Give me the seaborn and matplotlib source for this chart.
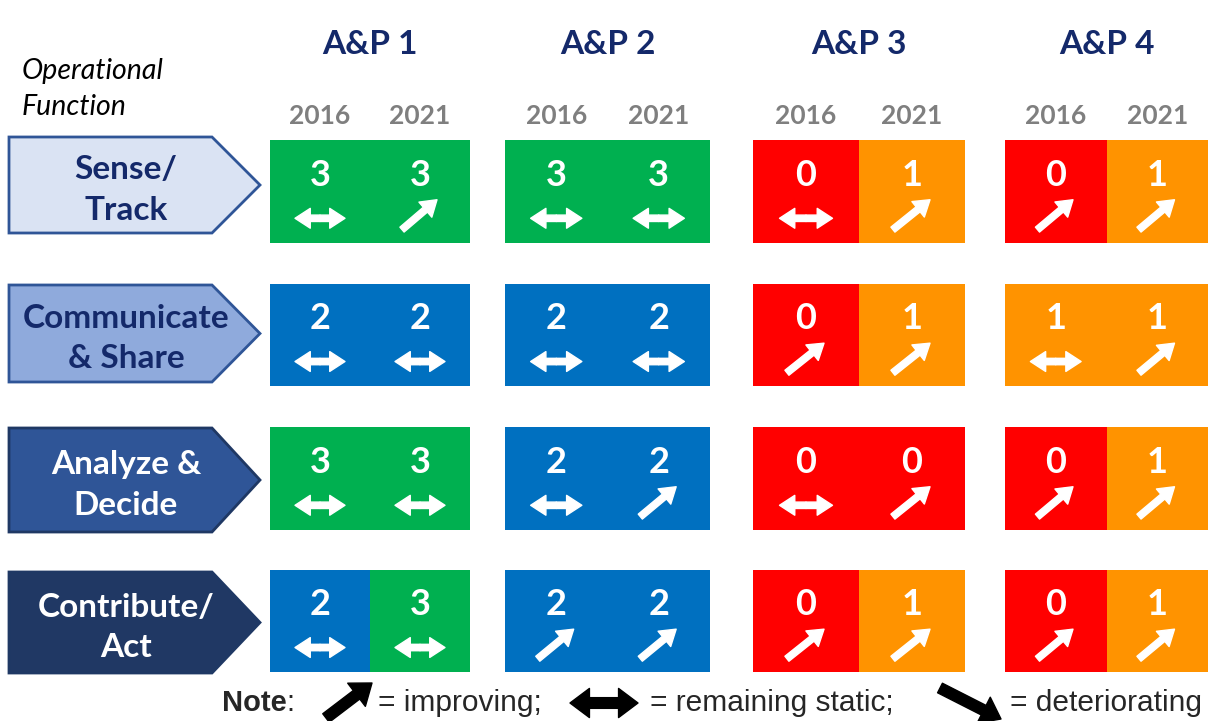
import numpy as np
import seaborn as sns
import matplotlib.pyplot as plt
from matplotlib.colors import ListedColormap
from matplotlib.patches import Polygon

# Scores per operational function (rows) and A&P area (columns)
functions = ["Sense/\nTrack", "Communicate\n& Share", "Analyze &\nDecide", "Contribute/\nAct"]
areas = ["A&P 1", "A&P 2", "A&P 3", "A&P 4"]
years = ["2016", "2021"]

score_2016 = [[3, 3, 0, 0],
              [2, 2, 0, 1],
              [3, 2, 0, 0],
              [2, 2, 0, 0]]
score_2021 = [[3, 3, 1, 1],
              [2, 2, 1, 1],
              [3, 2, 0, 1],
              [3, 2, 1, 1]]
# trend: "up" = improving, "flat" = remaining static
trend_2016 = [["flat", "flat", "flat", "up"],
              ["flat", "flat", "up", "flat"],
              ["flat", "flat", "flat", "up"],
              ["flat", "up", "up", "up"]]
trend_2021 = [["up", "flat", "up", "up"],
              ["flat", "flat", "up", "up"],
              ["flat", "up", "up", "up"],
              ["flat", "up", "up", "up"]]

score_colors = ["#FF0000", "#FF9300", "#0070C0", "#00B050"]  # 0,1,2,3
label_fill = ["#DAE3F3", "#8FAADC", "#2F5597", "#203864"]
label_edge = ["#2F5597", "#2F5597", "#1F3864", "#1F3864"]
label_text = ["#14296A", "#14296A", "white", "white"]

W, H = 1209, 721
sns.set_style("white")
plt.rcParams['font.family'] = ['Lato', 'DejaVu Sans']

fig = plt.figure(figsize=(W / 100, H / 100), dpi=100)
bg = fig.add_axes([0, 0, 1, 1])
bg.set_xlim(0, W)
bg.set_ylim(H, 0)
bg.axis("off")

# layout in pixels
group_x = [(270, 470), (505, 710), (753, 965), (1005, 1208)]
row_y = [(140, 243), (284, 386), (427, 530), (570, 672)]
pent_y = [(137, 233), (285, 382), (428, 532), (572, 673)]

cmap = ListedColormap(score_colors)


def white_arrow(ax, start, end, scale=11):
    ax.annotate("", xy=end, xytext=start,
                arrowprops=dict(arrowstyle="simple,head_length=1.0,head_width=1.3,tail_width=0.42",
                                color="white", mutation_scale=scale, shrinkA=0, shrinkB=0))


for r in range(4):
    y0, y1 = row_y[r]
    for g in range(4):
        x0, x1 = group_x[g]
        ax = fig.add_axes([x0 / W, 1 - y1 / H, (x1 - x0) / W, (y1 - y0) / H])
        vals = np.array([[score_2016[r][g], score_2021[r][g]]])
        sns.heatmap(vals, ax=ax, cmap=cmap, vmin=-0.5, vmax=3.5, cbar=False,
                    xticklabels=False, yticklabels=False, linewidths=0)
        trends = [trend_2016[r][g], trend_2021[r][g]]
        for j in range(2):
            ax.text(j + 0.5, 0.34, str(vals[0, j]), color="white", fontsize=26,
                    fontweight="bold", ha="center", va="center")
            if trends[j] == "up":
                white_arrow(ax, (j + 0.32, 0.87), (j + 0.67, 0.58))
            else:
                white_arrow(ax, (j + 0.5, 0.76), (j + 0.25, 0.76))
                white_arrow(ax, (j + 0.5, 0.76), (j + 0.75, 0.76))

# headers
for g in range(4):
    x0, x1 = group_x[g]
    xm = (x0 + x1) / 2
    bg.text(xm, 44, areas[g], color="#14296A", fontsize=24, fontweight="bold",
            ha="center", va="center")
    for j, yr in enumerate(years):
        bg.text(x0 + (x1 - x0) * (0.25 + 0.5 * j), 116, yr, color="#7F7F7F",
                fontsize=19, fontweight="bold", ha="center", va="center")

bg.text(22, 89, "Operational\nFunction", fontsize=20.5, style="italic", color="black",
        ha="left", va="center", linespacing=1.45)

# pentagon labels
for r in range(4):
    t, b = pent_y[r]
    body = 212
    tip = 260
    poly = Polygon([(9, t), (body, t), (tip, (t + b) / 2), (body, b), (9, b)],
                   closed=True, facecolor=label_fill[r], edgecolor=label_edge[r], lw=2)
    bg.add_patch(poly)
    bg.text(126, (t + b) / 2 + 5, functions[r], color=label_text[r], fontsize=24,
            fontweight="bold", ha="center", va="center", linespacing=1.48)

# note
note_font = ['Liberation Sans Narrow', 'Liberation Sans', 'DejaVu Sans']


def black_arrow(start, end):
    bg.annotate("", xy=end, xytext=start,
                arrowprops=dict(arrowstyle="simple,head_length=1.0,head_width=1.5,tail_width=0.55",
                                color="black", mutation_scale=14, shrinkA=0, shrinkB=0))


note = bg.text(222, 703, "Note", fontsize=21, fontweight="bold", family=note_font,
               ha="left", va="center")
bg.annotate(":", xy=(1, 0.5), xycoords=note, fontsize=21, family=note_font,
            ha="left", va="center")
black_arrow((326, 718), (372, 683))
bg.text(378, 703, "= improving;", fontsize=21.5, family=note_font, ha="left", va="center")
black_arrow((604, 703), (570, 703))
black_arrow((604, 703), (638, 703))
bg.text(650, 703, "= remaining static;", fontsize=21.5, family=note_font, ha="left", va="center")
black_arrow((940, 688), (1001, 719))
bg.text(1010, 703, "= deteriorating", fontsize=21.5, family=note_font, ha="left", va="center")

fig.savefig("out.png", dpi=100)
